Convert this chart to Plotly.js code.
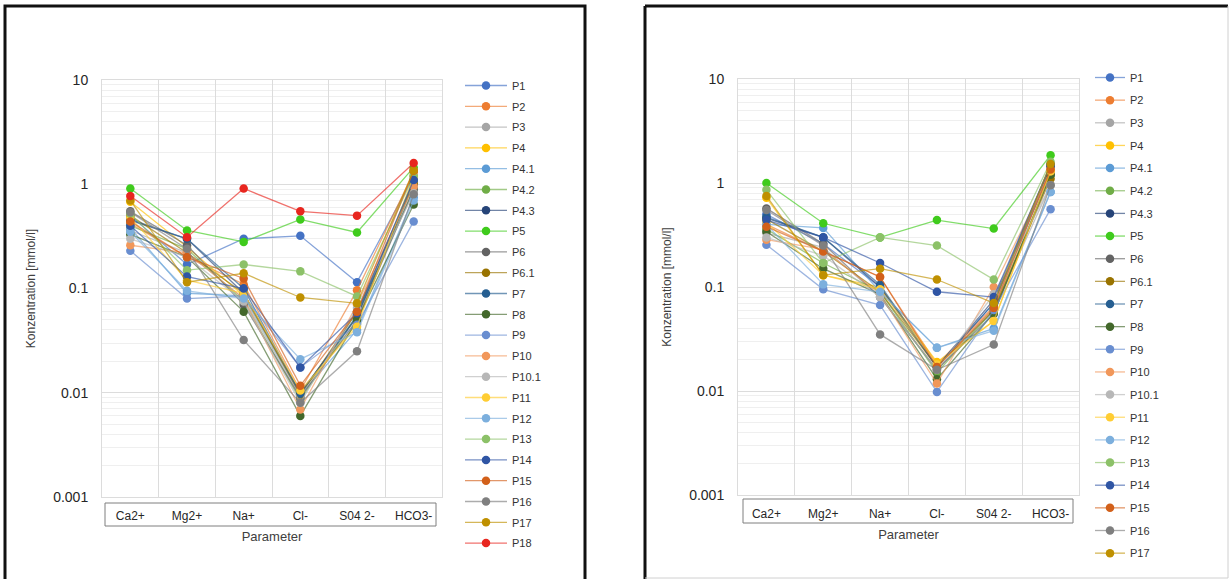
<!DOCTYPE html>
<html>
<head>
<meta charset="utf-8">
<script src="https://cdn.plot.ly/plotly-3.0.1.min.js"></script>
<style>html,body{margin:0;padding:0;background:#fff;}#chart{width:1231px;height:579px;}</style>
</head>
<body>
<div id="chart"></div>
<script>
// ---- categories / tick labels ----
const categories = ['Ca2+', 'Mg2+', 'Na+', 'Cl-', 'S04 2-', 'HCO3-'];
const yTickVals = [0.001, 0.01, 0.1, 1, 10];
const yTickText = ['0.001', '0.01', '0.1', '1', '10'];

// ---- series names ----
const namesLeft = ['P1','P2','P3','P4','P4.1','P4.2','P4.3','P5','P6','P6.1','P7','P8','P9','P10','P10.1','P11','P12','P13','P14','P15','P16','P17','P18'];
const namesRight = ['P1','P2','P3','P4','P4.1','P4.2','P4.3','P5','P6','P6.1','P7','P8','P9','P10','P10.1','P11','P12','P13','P14','P15','P16','P17'];

// ---- left chart values [mmol/l] ----
const L_P1   = [0.50, 0.17, 0.30, 0.32, 0.115, 1.20];
const L_P2   = [0.42, 0.20, 0.11, 0.0105, 0.096, 1.30];
const L_P3   = [0.36, 0.22, 0.080, 0.0090, 0.060, 0.85];
const L_P4   = [0.68, 0.25, 0.085, 0.0100, 0.046, 1.10];
const L_P4_1 = [0.38, 0.090, 0.085, 0.0095, 0.040, 0.75];
const L_P4_2 = [0.40, 0.24, 0.075, 0.0085, 0.055, 0.90];
const L_P4_3 = [0.45, 0.30, 0.090, 0.0100, 0.053, 1.00];
const L_P5   = [0.91, 0.36, 0.28, 0.46, 0.345, 1.45];
const L_P6   = [0.55, 0.26, 0.070, 0.0090, 0.050, 0.90];
const L_P6_1 = [0.50, 0.22, 0.090, 0.0095, 0.060, 1.02];
const L_P7   = [0.46, 0.30, 0.100, 0.0098, 0.055, 1.10];
const L_P8   = [0.33, 0.20, 0.060, 0.0060, 0.050, 0.64];
const L_P9   = [0.23, 0.080, 0.085, 0.0175, 0.045, 0.44];
const L_P10  = [0.26, 0.22, 0.080, 0.0069, 0.070, 0.95];
const L_P10_1= [0.30, 0.20, 0.075, 0.0080, 0.065, 0.82];
const L_P11  = [0.48, 0.12, 0.090, 0.0105, 0.043, 1.20];
const L_P12  = [0.35, 0.095, 0.080, 0.021, 0.038, 0.70];
const L_P13  = [0.52, 0.15, 0.17, 0.146, 0.084, 1.20];
const L_P14  = [0.40, 0.13, 0.100, 0.0175, 0.058, 1.10];
const L_P15  = [0.44, 0.20, 0.125, 0.0117, 0.060, 1.35];
const L_P16  = [0.54, 0.24, 0.032, 0.0080, 0.025, 0.80];
const L_P17  = [0.70, 0.115, 0.14, 0.082, 0.072, 1.36];
const L_P18  = [0.77, 0.31, 0.91, 0.55, 0.50, 1.60];

// ---- right chart values [mmol/l] ----
const R_P1   = [0.50, 0.26, 0.100, 0.017, 0.070, 1.30];
const R_P2   = [0.40, 0.22, 0.125, 0.018, 0.065, 1.40];
const R_P3   = [0.33, 0.24, 0.080, 0.016, 0.060, 0.95];
const R_P4   = [0.72, 0.13, 0.100, 0.019, 0.047, 1.30];
const R_P4_1 = [0.40, 0.37, 0.090, 0.026, 0.040, 0.82];
const R_P4_2 = [0.36, 0.17, 0.090, 0.015, 0.060, 1.20];
const R_P4_3 = [0.46, 0.30, 0.100, 0.017, 0.075, 1.50];
const R_P5   = [1.00, 0.41, 0.30, 0.44, 0.365, 1.85];
const R_P6   = [0.57, 0.26, 0.080, 0.016, 0.055, 1.20];
const R_P6_1 = [0.45, 0.22, 0.090, 0.017, 0.060, 1.10];
const R_P7   = [0.47, 0.30, 0.105, 0.017, 0.070, 1.45];
const R_P8   = [0.34, 0.15, 0.085, 0.013, 0.056, 1.20];
const R_P9   = [0.255, 0.095, 0.067, 0.0098, 0.060, 0.56];
const R_P10  = [0.285, 0.23, 0.085, 0.0118, 0.100, 1.30];
const R_P10_1= [0.30, 0.20, 0.080, 0.016, 0.085, 0.95];
const R_P11  = [0.42, 0.13, 0.095, 0.018, 0.047, 1.30];
const R_P12  = [0.40, 0.106, 0.090, 0.026, 0.038, 0.82];
const R_P13  = [0.86, 0.17, 0.30, 0.25, 0.118, 1.60];
const R_P14  = [0.44, 0.30, 0.17, 0.090, 0.080, 1.50];
const R_P15  = [0.38, 0.22, 0.125, 0.017, 0.063, 1.35];
const R_P16  = [0.55, 0.25, 0.035, 0.016, 0.028, 0.95];
const R_P17  = [0.75, 0.13, 0.15, 0.118, 0.070, 1.52];

// ---- series colours ----
const seriesColors = ['#4472C4','#ED7D31','#A5A5A5','#FFC000','#5B9BD5','#70AD47','#264478','#3FCB1C','#636363','#997300','#255E91','#43682B','#698ED0','#F1975A','#B7B7B7','#FFCD33','#7CAFDD','#8CC168','#2F55A4','#D2601A','#7F7F7F','#BF9000','#E8261F'];

const leftSeries = [L_P1,L_P2,L_P3,L_P4,L_P4_1,L_P4_2,L_P4_3,L_P5,L_P6,L_P6_1,L_P7,L_P8,L_P9,L_P10,L_P10_1,L_P11,L_P12,L_P13,L_P14,L_P15,L_P16,L_P17,L_P18];
const rightSeries = [R_P1,R_P2,R_P3,R_P4,R_P4_1,R_P4_2,R_P4_3,R_P5,R_P6,R_P6_1,R_P7,R_P8,R_P9,R_P10,R_P10_1,R_P11,R_P12,R_P13,R_P14,R_P15,R_P16,R_P17];

function hexA(hex, a) {
  const n = parseInt(hex.slice(1), 16);
  return 'rgba(' + ((n >> 16) & 255) + ',' + ((n >> 8) & 255) + ',' + (n & 255) + ',' + a + ')';
}

const traces = [];
leftSeries.forEach((vals, i) => {
  traces.push({
    type: 'scatter', mode: 'lines+markers', x: categories, y: vals, name: namesLeft[i],
    xaxis: 'x', yaxis: 'y', legend: 'legend', legendgroup: 'L' + i,
    line: {color: hexA(seriesColors[i], 0.65), width: 1.3},
    marker: {color: seriesColors[i], size: 8.5}
  });
});
rightSeries.forEach((vals, i) => {
  traces.push({
    type: 'scatter', mode: 'lines+markers', x: categories, y: vals, name: namesRight[i],
    xaxis: 'x2', yaxis: 'y2', legend: 'legend2', legendgroup: 'R' + i,
    line: {color: hexA(seriesColors[i], 0.65), width: 1.3},
    marker: {color: seriesColors[i], size: 8.5}
  });
});

const W = 1231, H = 579;
const px = v => v / W;
const py = v => 1 - v / H;
const FONT = '"Liberation Sans", Arial, sans-serif';

function xAxis(d0, d1) {
  return {
    domain: [px(d0), px(d1)], type: 'category', categoryorder: 'array', categoryarray: categories,
    range: [-0.5, 5.5], tickson: 'boundaries', showgrid: true, gridcolor: '#DCDCDC', gridwidth: 1,
    ticks: '', ticklabelstandoff: 8, zeroline: false, automargin: false,
    showline: true, mirror: true, linecolor: '#DCDCDC', linewidth: 1,
    tickfont: {family: FONT, size: 12, color: '#262626'},
    title: {text: 'Parameter', font: {family: FONT, size: 13, color: '#404040'}, standoff: 9},
    fixedrange: true
  };
}
function yAxis(d0, d1, anchor) {
  return {
    domain: [py(d1), py(d0)], type: 'log', range: [-3, 1], anchor: anchor, automargin: false,
    tickmode: 'array', tickvals: yTickVals, ticktext: yTickText,
    showgrid: true, gridcolor: '#DCDCDC', gridwidth: 1,
    minor: {showgrid: true, gridcolor: '#EFEFEF', dtick: 'D1', ticks: ''},
    ticks: 'outside', ticklen: 10, tickcolor: 'rgba(0,0,0,0)', zeroline: false,
    showline: true, mirror: true, linecolor: '#DCDCDC', linewidth: 1,
    tickfont: {family: FONT, size: 14, color: '#262626'},
    title: {text: 'Konzentration [mmol/l]', font: {family: FONT, size: 12, color: '#404040'}, standoff: 14},
    fixedrange: true
  };
}

const layout = {
  width: W, height: H,
  margin: {l: 0, r: 0, t: 0, b: 0},
  paper_bgcolor: '#ffffff', plot_bgcolor: '#ffffff',
  font: {family: FONT, color: '#333333'},
  xaxis: Object.assign(xAxis(102, 442), {anchor: 'y'}),
  yaxis: yAxis(80, 497, 'x'),
  xaxis2: Object.assign(xAxis(738, 1079), {anchor: 'y2'}),
  yaxis2: yAxis(79, 495, 'x2'),
  showlegend: true,
  legend: {
    x: px(460), y: py(71), xanchor: 'left', yanchor: 'top',
    font: {family: FONT, size: 11, color: '#333333'},
    tracegroupgap: 1.8, itemwidth: 42, bgcolor: 'rgba(0,0,0,0)', traceorder: 'grouped'
  },
  legend2: {
    x: px(1090), y: py(63), xanchor: 'left', yanchor: 'top',
    font: {family: FONT, size: 11, color: '#333333'},
    tracegroupgap: 3.65, itemwidth: 30, bgcolor: 'rgba(0,0,0,0)', traceorder: 'grouped'
  },
  shapes: [
    // left panel frame
    {type: 'rect', xref: 'paper', yref: 'paper', x0: px(5), x1: px(585), y0: py(600), y1: py(6), line: {color: '#111111', width: 3}},
    // right panel frame
    {type: 'line', xref: 'paper', yref: 'paper', x0: px(645), x1: px(645), y0: py(600), y1: py(6), line: {color: '#111111', width: 3}},
    {type: 'line', xref: 'paper', yref: 'paper', x0: px(645), x1: px(1228), y0: py(6), y1: py(6), line: {color: '#111111', width: 3}},
    {type: 'line', xref: 'paper', yref: 'paper', x0: px(1228), x1: px(1228), y0: py(6), y1: py(578), line: {color: '#D0D0D0', width: 1}},
    {type: 'line', xref: 'paper', yref: 'paper', x0: px(645), x1: px(1228), y0: py(578), y1: py(578), line: {color: '#D0D0D0', width: 1}},
    // category label boxes
    {type: 'rect', xref: 'paper', yref: 'paper', x0: px(105), x1: px(436), y0: py(526), y1: py(503), line: {color: '#7F7F7F', width: 1}},
    {type: 'rect', xref: 'paper', yref: 'paper', x0: px(743), x1: px(1073), y0: py(523), y1: py(499), line: {color: '#7F7F7F', width: 1}}
  ]
};

Plotly.newPlot('chart', traces, layout, {staticPlot: true, displayModeBar: false});
</script>
</body>
</html>
